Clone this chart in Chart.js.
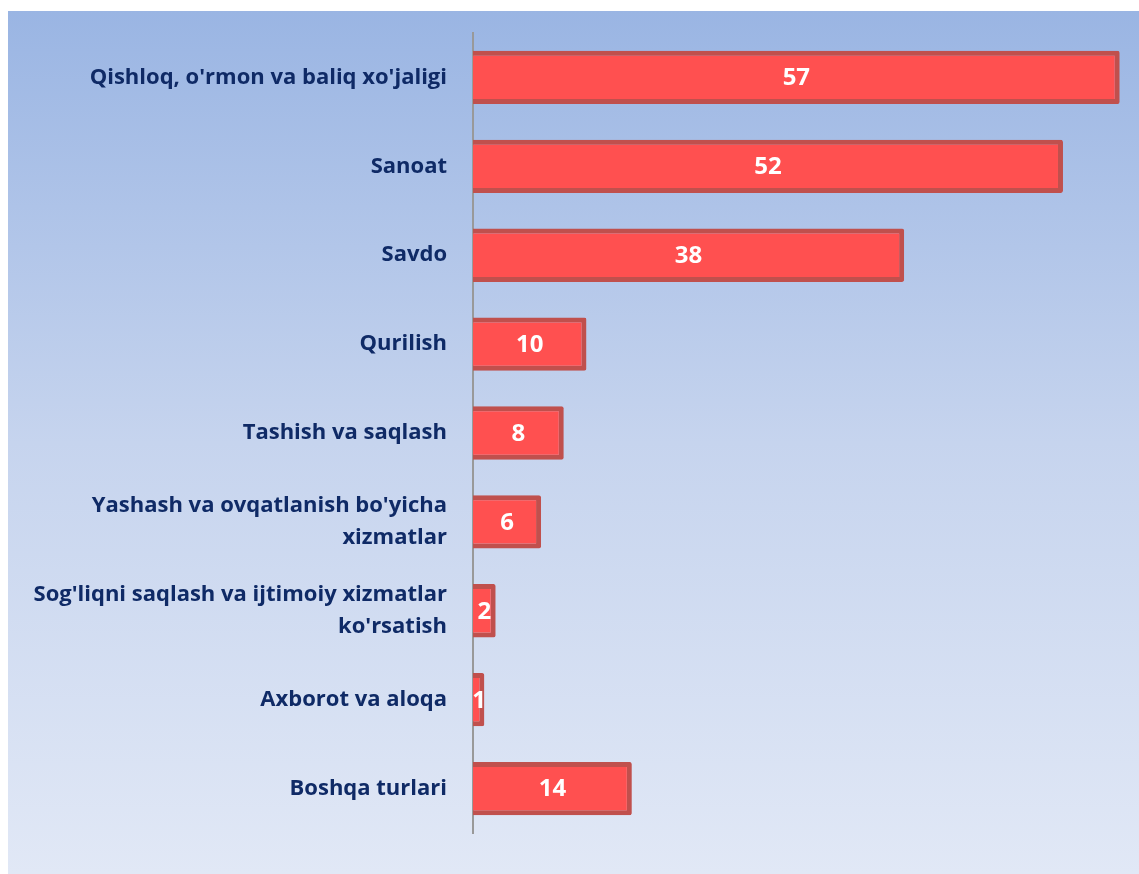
<!DOCTYPE html>
<html>
<head>
<meta charset="utf-8">
<script src="https://cdn.jsdelivr.net/npm/chart.js@4"></script>
<style>
    body { margin: 0; background: #fff; }
    #box {
        position: absolute; left: 8px; top: 11px; width: 1131px; height: 863px;
        background: linear-gradient(to bottom, #9ab5e3 0%, #c6d4ee 50%, #e1e8f6 100%);
    }
</style>
</head>
<body>
<div id="box"><canvas id="chart"></canvas></div>
<script>
const categories = [
    "Qishloq, o'rmon va baliq xo'jaligi",
    "Sanoat",
    "Savdo",
    "Qurilish",
    "Tashish va saqlash",
    ["Yashash va ovqatlanish bo'yicha", "xizmatlar"],
    ["Sog'liqni saqlash va ijtimoiy xizmatlar", "ko'rsatish"],
    "Axborot va aloqa",
    "Boshqa turlari"
];
const values = [57, 52, 38, 10, 8, 6, 2, 1, 14];
const xMax = 58.7;

// qiymatlarni bar markaziga yozish
const valueLabels = {
    id: 'valueLabels',
    afterDatasetsDraw(chart) {
        const ctx = chart.ctx;
        const meta = chart.getDatasetMeta(0);
        ctx.save();
        ctx.font = 'bold 24px "Open Sans"';
        ctx.fillStyle = '#ffffff';
        ctx.textAlign = 'center';
        ctx.textBaseline = 'middle';
        meta.data.forEach((bar, i) => {
            const cx = (bar.x + bar.base) / 2;
            ctx.fillText(String(values[i]), Math.max(cx, bar.base + 6), bar.y + 1);
        });
        ctx.restore();
    }
};

const canvas = document.getElementById('chart');
canvas.width = 1131;
canvas.height = 863;

new Chart(canvas, {
    type: 'bar',
    data: {
        labels: categories,
        datasets: [{
            data: values,
            backgroundColor: '#ff5050',
            borderColor: '#c0504d',
            borderWidth: 5,
            borderSkipped: 'start',
            borderRadius: 2,
            categoryPercentage: 1,
            barPercentage: 0.6
        }]
    },
    options: {
        indexAxis: 'y',
        responsive: false,
        animation: false,
        layout: { padding: { top: 22, bottom: 41, left: 0, right: 0 } },
        plugins: {
            legend: { display: false },
            tooltip: { enabled: false }
        },
        scales: {
            x: {
                display: false,
                min: 0,
                max: xMax
            },
            y: {
                grid: { display: false },
                border: { display: true, color: '#999999', width: 2 },
                afterFit: (scale) => {
                    scale.width = 465;
                    scale.paddingTop = 0;
                    scale.paddingBottom = 0;
                },
                ticks: {
                    padding: 18,
                    color: '#0f2a66',
                    font: { family: '"Open Sans"', size: 22, weight: 'bold', lineHeight: 1.45 }
                }
            }
        }
    },
    plugins: [valueLabels]
});
</script>
</body>
</html>
